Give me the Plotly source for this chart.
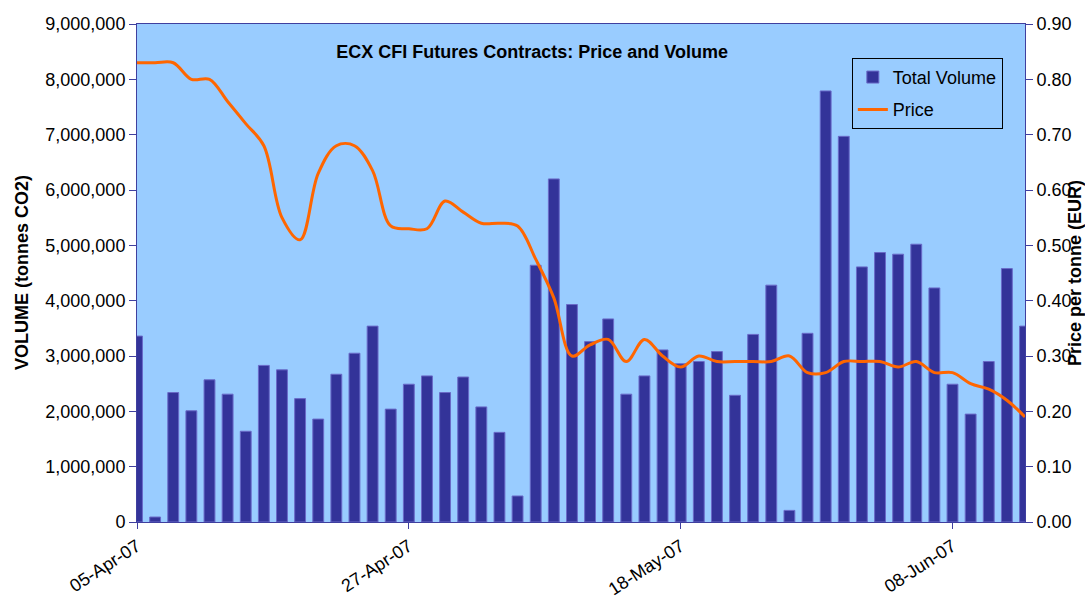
import plotly.graph_objects as go

dates = [
    "05-Apr-07", "09-Apr-07", "10-Apr-07", "11-Apr-07", "12-Apr-07", "13-Apr-07",
    "16-Apr-07", "17-Apr-07", "18-Apr-07", "19-Apr-07", "20-Apr-07",
    "23-Apr-07", "24-Apr-07", "25-Apr-07", "26-Apr-07", "27-Apr-07",
    "30-Apr-07", "01-May-07", "02-May-07", "03-May-07", "04-May-07",
    "07-May-07", "08-May-07", "09-May-07", "10-May-07", "11-May-07",
    "14-May-07", "15-May-07", "16-May-07", "17-May-07", "18-May-07",
    "21-May-07", "22-May-07", "23-May-07", "24-May-07", "25-May-07",
    "28-May-07", "29-May-07", "30-May-07", "31-May-07", "01-Jun-07",
    "04-Jun-07", "05-Jun-07", "06-Jun-07", "07-Jun-07", "08-Jun-07",
    "11-Jun-07", "12-Jun-07", "13-Jun-07", "14-Jun-07",
]

volume = [
    3360000, 90000, 2340000, 2010000, 2570000, 2310000, 1640000, 2830000, 2750000, 2230000,
    1860000, 2670000, 3050000, 3540000, 2040000, 2490000, 2640000, 2340000, 2620000, 2080000,
    1620000, 470000, 4640000, 6200000, 3930000, 3260000, 3670000, 2310000, 2640000, 3110000,
    2860000, 2900000, 3080000, 2290000, 3390000, 4280000, 210000, 3410000, 7790000, 6970000,
    4610000, 4870000, 4840000, 5020000, 4230000, 2490000, 1950000, 2900000, 4580000, 3540000,
]

price = [
    0.83, 0.83, 0.83, 0.80, 0.80, 0.76, 0.72, 0.68, 0.55, 0.51,
    0.63, 0.68, 0.68, 0.635, 0.535, 0.53, 0.53, 0.58, 0.56, 0.54,
    0.54, 0.535, 0.475, 0.405, 0.30, 0.32, 0.33, 0.29, 0.33, 0.30,
    0.28, 0.30, 0.29, 0.29, 0.29, 0.29, 0.30, 0.27, 0.27, 0.29,
    0.29, 0.29, 0.28, 0.29, 0.27, 0.27, 0.25, 0.24, 0.22, 0.19,
]

tick_labels = ["05-Apr-07", "27-Apr-07", "18-May-07", "08-Jun-07"]

FONT = "Liberation Sans, Arial, sans-serif"
AXIS_COLOR = "#3f3f9f"

fig = go.Figure()
fig.add_trace(go.Bar(
    x=dates, y=volume, name="Total Volume",
    marker=dict(color="#333399", line=dict(color="#6a6ac8", width=1)),
    yaxis="y", legendgroup="v",
))
fig.add_trace(go.Scatter(
    x=dates, y=price, name="Price", mode="lines",
    line=dict(color="#FF6600", width=3, shape="spline", smoothing=1),
    yaxis="y2", legendgroup="p",
))

fig.update_layout(
    width=1085, height=597,
    margin=dict(l=137, r=60, t=24, b=75, autoexpand=False),
    paper_bgcolor="white",
    plot_bgcolor="#99CCFF",
    font=dict(family=FONT, size=18, color="black"),
    bargap=0.4,
    showlegend=True,
    title=dict(
        text="<b>ECX CFI Futures Contracts: Price and Volume</b>",
        font=dict(family=FONT, size=18, color="black"),
        xref="paper", x=0.445, xanchor="center",
        yref="paper", y=0.944, yanchor="middle",
        automargin=False,
    ),
    legend=dict(
        x=0.805, y=0.932, xanchor="left", yanchor="top",
        bgcolor="rgba(0,0,0,0)", bordercolor="black", borderwidth=1,
        font=dict(family=FONT, size=18, color="black"),
        tracegroupgap=6,
    ),
    xaxis=dict(
        type="category", range=[0, len(dates) - 1],
        tickmode="array", tickvals=tick_labels, ticktext=tick_labels,
        tickangle=-33, ticks="outside", ticklen=6, tickcolor=AXIS_COLOR,
        showline=True, linecolor=AXIS_COLOR, linewidth=1, mirror=True,
        showgrid=False, zeroline=False, automargin=False,
        tickfont=dict(family=FONT, size=18, color="black"),
    ),
    yaxis=dict(
        range=[0, 9000000], dtick=1000000, tickformat=",d",
        ticks="outside", ticklen=7, tickcolor=AXIS_COLOR,
        showline=True, linecolor=AXIS_COLOR, linewidth=1,
        showgrid=False, zeroline=False, automargin=False,
        tickfont=dict(family=FONT, size=18, color="black"),
    ),
    yaxis2=dict(
        overlaying="y", side="right",
        range=[0, 0.9], dtick=0.1, tickformat=".2f",
        ticks="outside", ticklen=7, tickcolor=AXIS_COLOR,
        showline=True, linecolor=AXIS_COLOR, linewidth=1,
        showgrid=False, zeroline=False, automargin=False,
        tickfont=dict(family=FONT, size=18, color="black"),
    ),
    annotations=[
        dict(text="<b>VOLUME (tonnes CO2)</b>", textangle=-90,
             xref="paper", yref="paper", x=-0.1295, y=0.5,
             xanchor="center", yanchor="middle", showarrow=False,
             font=dict(family=FONT, size=18, color="black")),
        dict(text="<b>Price per tonne (EUR)</b>", textangle=-90,
             xref="paper", yref="paper", x=1.0563, y=0.5,
             xanchor="center", yanchor="middle", showarrow=False,
             font=dict(family=FONT, size=18, color="black")),
    ],
)

fig.write_html(
    "out.html",
    config={"displayModeBar": False},
    post_script="document.body.style.margin='0';document.body.style.overflow='hidden';",
)
